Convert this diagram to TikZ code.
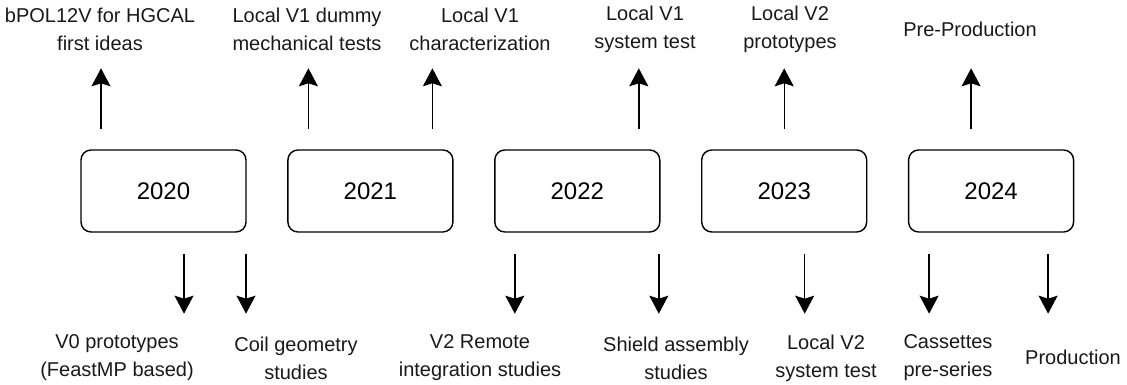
\documentclass[tikz,border=0pt]{standalone}
\usepackage{fontspec}
\setmainfont{Liberation Sans}
\usetikzlibrary{positioning,arrows.meta}

\begin{document}
\begin{tikzpicture}[x=1pt,y=1pt,
    year/.style={draw,rounded corners=10pt,line width=1.4pt,minimum width=165pt,minimum height=82pt,inner sep=0pt,font=\fontsize{24pt}{28pt}\selectfont},
    note/.style={align=center,inner sep=0pt,text=black!90,font=\fontsize{20pt}{28pt}\selectfont},
    arr/.style={line width=1.4pt,-{Stealth[length=18pt,width=19pt,inset=3pt]}}]
                \useasboundingbox (0,0) rectangle (1127,385);
                % the years
                \node [year] (y2020) at (163.5,194) {2020};
                \node [year] (y2021) [right=40.5pt of y2020] {2021};
                \node [year] (y2022) [right=40.5pt of y2021] {2022};
                \node [year] (y2023) [right=40.5pt of y2022] {2023};
                \node [year] (y2024) [right=40.5pt of y2023] {2024};
                % milestones above
                \node [note] (ideas) at (100,356) {bPOL12V for HGCAL\\first ideas};
                \node [note] (dummy) at (307,356) {Local V1 dummy\\mechanical tests};
                \node [note] (charact) at (480,356) {Local V1\\characterization};
                \node [note] (systv1) at (645,356) {Local V1\\system test};
                \node [note] (protov2) at (790,356) {Local V2\\prototypes};
                \node [note] (preprod) at (970,356) {Pre-Production};
                % studies below
                \node [note] (protov0) at (117,27) {V0 prototypes\\(FeastMP based)};
                \node [note] (coil) at (296,27) {Coil geometry\\studies};
                \node [note] (remote) at (480,27) {V2 Remote\\integration studies};
                \node [note] (shield) at (676,27) {Shield assembly\\studies};
                \node [note] (systv2) at (826,27) {Local V2\\system test};
                \node [note] (cassette) at (948,27) {Cassettes\\pre-series};
                \node [note] (prod) at (1073,28) {Production};
                % arrows up
                \draw [arr] ([xshift=-62.5pt,yshift=20pt]y2020.north) -- ++(0,61);
                \draw [arr] ([xshift=-62pt,yshift=20pt]y2021.north) -- ++(0,61);
                \draw [arr] ([xshift=62pt,yshift=20pt]y2021.north) -- ++(0,61);
                \draw [arr] ([xshift=61.5pt,yshift=20pt]y2022.north) -- ++(0,61);
                \draw [arr] ([yshift=20pt]y2023.north) -- ++(0,61);
                \draw [arr] ([xshift=-20pt,yshift=20pt]y2024.north) -- ++(0,61);
                % arrows down
                \draw [arr] ([xshift=20.5pt,yshift=-21pt]y2020.south) -- ++(0,-60);
                \draw [arr] ([xshift=82.5pt,yshift=-21pt]y2020.south) -- ++(0,-60);
                \draw [arr] ([xshift=-62.5pt,yshift=-21pt]y2022.south) -- ++(0,-60);
                \draw [arr] ([xshift=81.5pt,yshift=-21pt]y2022.south) -- ++(0,-60);
                \draw [arr] ([xshift=20.5pt,yshift=-21pt]y2023.south) -- ++(0,-60);
                \draw [arr] ([xshift=-62pt,yshift=-21pt]y2024.south) -- ++(0,-60);
                \draw [arr] ([xshift=57pt,yshift=-21pt]y2024.south) -- ++(0,-60);
\end{tikzpicture}
\end{document}
